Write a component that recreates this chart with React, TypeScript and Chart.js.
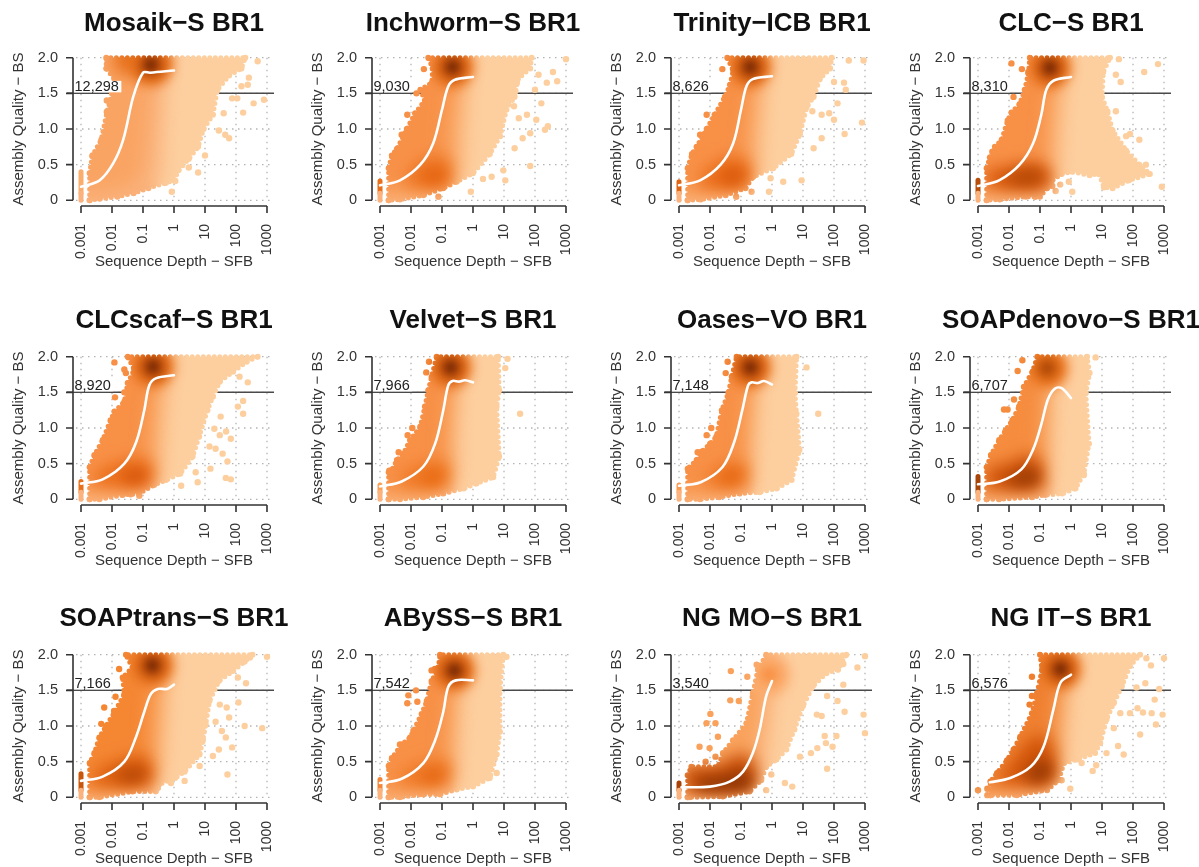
import React, { useEffect, useRef } from "react";
import { Chart, registerables } from "chart.js";

type P = [number, number];

const titles = ["Mosaik−S BR1","Inchworm−S BR1","Trinity−ICB BR1","CLC−S BR1","CLCscaf−S BR1","Velvet−S BR1","Oases−VO BR1","SOAPdenovo−S BR1","SOAPtrans−S BR1","ABySS−S BR1","NG MO−S BR1","NG IT−S BR1"];
const counts = ["12,298","9,030","8,626","8,310","8,920","7,966","7,148","6,707","7,166","7,542","3,540","6,576"];
const xTickValues = [0.001,0.01,0.1,1,10,100,1000];
const yTickValues = [0,0.5,1,1.5,2];
const threshold = 1.5;

const hulls: P[][] = [
[[.0019,0],[.0019,.38],[.0023,.62],[.0045,.85],[.007,1.25],[.01,1.5],[.012,1.7],[.0065,1.85],[.0065,2],[200,2],[150,1.85],[60,1.75],[25,1.55],[18,1.2],[9,1],[6,.75],[3,.58],[1.4,.42],[1,.28],[.5,.24],[.15,.17],[.05,.1],[.015,.05],[.004,.02]],
[[.0019,0],[.0019,.45],[.0024,.63],[.0035,.72],[.0073,1],[.0135,1.22],[.028,1.4],[.02,1.55],[.047,1.65],[.05,1.85],[.036,2],[78,2],[70,1.85],[28,1.7],[22,1.45],[12,1.27],[7.5,.9],[3.5,.65],[1,.38],[.3,.26],[.11,.17],[.025,.07],[.0044,.01]],
[[.0019,0],[.0019,.45],[.0026,.65],[.0037,.75],[.0078,1],[.014,1.2],[.03,1.45],[.044,1.62],[.056,1.82],[.036,2],[85,2],[75,1.85],[35,1.7],[22,1.45],[13,1.3],[8,.93],[4.2,.65],[1.1,.45],[.25,.33],[.14,.17],[.032,.07],[.005,.01]],
[[.0019,0],[.0019,.45],[.0024,.6],[.0035,.75],[.0058,.85],[.009,1.12],[.012,1.23],[.022,1.35],[.032,1.55],[.042,1.78],[.047,2],[18,2],[11,1.8],[10,1.45],[15,1.25],[22,.98],[60,.7],[160,.5],[350,.37],[75,.28],[22,.17],[11.5,.18],[8,.37],[4,.35],[1.1,.4],[.5,.37],[.25,.28],[.17,.17],[.1,.05],[.035,.05],[.005,.01]],
[[.0019,0],[.0019,.45],[.0027,.62],[.005,.83],[.009,1.11],[.012,1.23],[.025,1.37],[.032,1.63],[.052,1.82],[.032,2],[500,2],[220,1.93],[80,1.79],[30,1.65],[18,1.44],[12,1.25],[6.5,.88],[4,.6],[1.6,.36],[.55,.27],[.23,.2],[.075,.08],[.022,.06],[.0039,0]],
[[.0019,0],[.0019,.38],[.0024,.41],[.0035,.55],[.0057,.64],[.0093,.83],[.02,1.02],[.028,1.3],[.036,1.53],[.046,1.72],[.067,2],[6.5,2],[7,1.53],[5.8,1.3],[7,.6],[4.5,.31],[1.3,.22],[.5,.15],[.11,.08],[.025,.03],[.0044,0]],
[[.0019,0],[.0019,.43],[.0037,.55],[.0054,.67],[.01,.78],[.016,.88],[.024,1.25],[.039,1.49],[.05,1.72],[.072,2],[6.2,2],[5.5,1.49],[6.2,1.2],[7.7,.69],[4.3,.27],[1.4,.15],[.4,.1],[.09,.08],[.02,.03],[.0047,0]],
[[.0019,0],[.0019,.45],[.0026,.62],[.0048,.83],[.0078,.97],[.0128,1.11],[.021,1.3],[.03,1.58],[.057,1.79],[.082,2],[3.3,2],[4,1.77],[3,1.49],[3.8,.78],[2.6,.36],[1.4,.15],[.52,.08],[.15,.06],[.055,.03],[.0048,0]],
[[.0019,0],[.0019,.48],[.0027,.62],[.0039,.84],[.0064,1],[.012,1.19],[.025,1.45],[.022,1.68],[.046,1.82],[.028,2],[340,2],[190,1.9],[80,1.77],[28,1.63],[14,1.35],[10.6,1.02],[8.5,.79],[6.7,.6],[2.2,.36],[1.1,.27],[.33,.18],[.26,.08],[.046,.08],[.0039,0]],
[[.0019,0],[.0019,.44],[.0024,.55],[.005,.74],[.0093,.84],[.022,1.17],[.032,1.35],[.046,1.63],[.076,1.82],[.086,2],[9.5,2],[7.4,1.53],[7.4,.92],[5.8,.6],[3.5,.27],[1,.15],[.3,.11],[.086,.04],[.025,.04],[.0044,0]],
[[.0019,0],[.0019,.31],[.0025,.43],[.018,.43],[.026,.62],[.055,.8],[.15,1.04],[.24,1.46],[.35,1.79],[.65,2],[250,2],[135,1.79],[57,1.74],[21,1.56],[10,1.28],[5.3,.95],[2.9,.67],[1.4,.53],[.65,.43],[.45,.24],[.19,.08],[.026,.01],[.0022,0]],
[[.0025,.03],[.0025,.22],[.0041,.34],[.0086,.52],[.014,.67],[.023,.85],[.055,1.18],[.08,1.46],[.116,1.79],[.1,2],[170,2],[80,1.84],[44,1.56],[24,1.32],[14,1.09],[8.8,.76],[6,.62],[1.6,.53],[.6,.48],[.4,.24],[.17,.1],[.018,.03]],
];

const outliers: P[][] = [
[[.0024,.63],[.0068,1.24],[.0125,1.78],[.0072,1.96],[.012,1.9],[.0125,1.68],[.0068,1.4],[800,1.41],[370,1.36],[170,1.23],[110,1.43],[75,1.43],[60,.87],[45,.92],[28,.98],[10,.63],[6,.39],[3,.46],[1.1,.27],[.85,.12],[.55,.25],[260,1.72],[240,1.62],[150,1.6],[500,1.95],[40,1.22]],
[[.026,1.84],[.015,1.5],[.0076,1.2],[.005,.92],[26,1.65],[23,1.53],[100,1.55],[160,1.36],[130,1.76],[240,1.65],[380,1.8],[520,1.67],[1000,1.98],[260,1.04],[210,.99],[110,1.13],[70,.94],[40,.87],[22,.73],[70,.48],[9.5,.42],[11,.28],[4,.33],[2.1,.3],[.85,.12],[.0765,.05],[55,1.2],[30,1.15],[21,1.32]],
[[.025,1.84],[.0078,1.2],[.0048,.92],[.004,.7],[20,1.67],[23,1.55],[100,1.66],[210,1.65],[240,1.55],[130,1.36],[20,1.25],[40,1.2],[70,1.22],[100,1.13],[800,1.09],[220,.93],[40,.87],[22,.73],[9,.28],[2.3,.26],[.8,.12],[.9,.31],[.07,.05],[.22,.12],[900,1.96],[300,1.96]],
[[.012,1.92],[.026,1.84],[.042,1.8],[.014,1.45],[35,1.98],[28,1.76],[40,1.66],[230,1.8],[640,1.91],[28,1.25],[60,.9],[80,.93],[160,.85],[260,.5],[850,.19],[.07,.05],[.32,.13],[1.1,.12],[.85,.26],[.0029,.68],[.25,.2],[.45,.22]],
[[.012,1.92],[.025,1.82],[.028,1.77],[.0125,1.43],[.025,1.5],[240,1.64],[130,1.72],[170,1.38],[115,1.3],[170,1.2],[32,1.16],[20,.99],[30,.9],[48,.95],[68,.85],[14,.74],[22,.71],[37,.64],[53,.53],[15,.43],[47,.3],[68,.28],[1.7,.19],[.076,.05],[.04,.07],[5,.38],[5.8,.24]],
[[.038,1.93],[.031,1.78],[13,1.97],[11,1.84],[33,1.2],[.011,1],[.0078,.9],[.004,.66],[.002,.4]],
[[.037,1.93],[.032,1.77],[13,1.85],[31,1.2],[.011,1],[.0078,.9],[.004,.66]],
[[.019,1.8],[.0069,1.26],[.0145,1.4],[.027,1.95],[6.2,1.99],[2.6,.34],[.009,1.26],[.013,1.05]],
[[1000,1.97],[280,1.96],[210,1.6],[115,1.68],[120,1.33],[190,1],[700,.97],[50,1.26],[60,1.12],[30,1.3],[22,1.06],[35,.93],[47,.84],[75,.7],[28,.67],[18,.58],[6.7,.44],[53,.32],[2.2,.23],[.8,.2],[.3,.13],[.017,1.8],[.013,1.41],[.0056,1.26],[.0117,1.21],[.0045,1.03]],
[[12,1.97],[.059,1.8],[.046,1.78],[.0145,1.5],[.0082,1.43],[.016,1.34],[.0076,1.32],[.012,.93],[.0044,.74],[.002,.44],[5.8,.34]],
[[1000,1.98],[570,1.82],[200,1.87],[200,1.58],[900,1.16],[1000,.9],[220,1.2],[130,1.35],[60,1.42],[40,1.14],[28,1.16],[120,.86],[90,.71],[50,.86],[55,.76],[29,.69],[60,.4],[18,.62],[8,.57],[4.5,.15],[2.6,.2],[.65,.1],[.95,.32],[.047,1.77],[.16,1.69],[.045,1.36],[.085,1.35],[.0103,1.17],[.0077,1.04],[.015,1.04],[.018,.85],[.0046,.71],[.0097,.69],[.0072,.5],[.015,.57],[.32,1.86]],
[[1000,1.95],[380,1.85],[270,1.95],[250,1.6],[130,1.54],[700,1.52],[500,1.37],[900,1.16],[400,1.18],[210,1.19],[140,1.25],[170,.88],[550,1.02],[80,1.18],[39,1.18],[24,.97],[33,.72],[50,.6],[14,.62],[5,.37],[6.5,.45],[2.2,.48],[.95,.12],[.5,.24],[.001,.1],[.055,1.69],[.055,1.42],[.046,1.3],[.002,.12],[.002,.03]],
];

const smoothers: P[][] = [
[[.001,.19],[.004,.28],[.011,.52],[.023,.85],[.049,1.46],[.1,1.79],[.17,1.79],[1,1.82]],
[[.001,.21],[.0044,.28],[.02,.5],[.052,.8],[.1,1.27],[.16,1.6],[.26,1.69],[1,1.73]],
[[.001,.21],[.0048,.28],[.022,.5],[.056,.8],[.1,1.27],[.15,1.6],[.24,1.7],[1,1.74]],
[[.001,.2],[.0048,.28],[.022,.5],[.06,.8],[.11,1.2],[.16,1.55],[.28,1.68],[1,1.73]],
[[.001,.22],[.005,.28],[.025,.5],[.06,.8],[.11,1.25],[.16,1.6],[.27,1.7],[1,1.74]],
[[.001,.18],[.005,.25],[.025,.46],[.06,.78],[.11,1.25],[.16,1.6],[.22,1.66],[.35,1.65],[.55,1.67],[1,1.64]],
[[.001,.19],[.005,.24],[.025,.45],[.06,.8],[.11,1.25],[.17,1.6],[.22,1.64],[.35,1.63],[.55,1.66],[1,1.61]],
[[.001,.21],[.005,.25],[.025,.42],[.06,.7],[.11,1.05],[.18,1.4],[.3,1.55],[.5,1.56],[1,1.42]],
[[.001,.23],[.005,.29],[.025,.5],[.06,.85],[.11,1.2],[.18,1.45],[.3,1.52],[.6,1.52],[1,1.58]],
[[.001,.2],[.005,.26],[.025,.48],[.06,.8],[.11,1.2],[.16,1.55],[.28,1.64],[1,1.64]],
[[.0012,.14],[.01,.15],[.043,.22],[.116,.36],[.24,.62],[.4,.95],[.65,1.42],[1,1.63]],
[[.0024,.21],[.011,.27],[.05,.43],[.13,.71],[.27,1.23],[.46,1.61],[1,1.72]],
];

const midEdges: P[][] = [
[[.6,2.2],[.5,1.6],[.42,1],[.36,.5],[.3,.2],[.1,.1],[.01,.06],[.001,.04]],
[[.7,2.2],[.55,1.5],[.45,1],[.4,.5],[.35,.25],[.1,.12],[.01,.08],[.001,.05]],
[[.7,2.2],[.5,1.5],[.4,1],[.35,.5],[.3,.28],[.1,.12],[.01,.08],[.001,.05]],
[[.7,2.2],[.5,1.5],[.4,1],[.35,.5],[.3,.25],[.12,.12],[.01,.08],[.001,.05]],
[[.7,2.2],[.5,1.5],[.4,1],[.35,.5],[.3,.28],[.1,.12],[.01,.08],[.001,.05]],
[[.35,2.2],[.3,1.5],[.25,1],[.25,.5],[.22,.2],[.08,.08],[.01,.06],[.001,.04]],
[[.35,2.2],[.3,1.5],[.25,1],[.22,.5],[.2,.2],[.08,.08],[.01,.06],[.001,.04]],
[[.25,2.2],[.22,1.5],[.2,1],[.18,.5],[.17,.2],[.08,.08],[.01,.06],[.001,.04]],
[[.6,2.2],[.5,1.5],[.42,1],[.35,.5],[.28,.2],[.1,.1],[.01,.08],[.001,.05]],
[[.45,2.2],[.36,1.5],[.3,1],[.27,.5],[.25,.2],[.08,.08],[.01,.06],[.001,.04]],
[[1.2,2.2],[1.1,1.5],[.9,1],[.7,.6],[.5,.3],[.2,.1],[.02,.03],[.001,.02]],
[[.9,2.2],[.75,1.5],[.6,1],[.5,.6],[.4,.24],[.1,.1],[.01,.05],[.001,.03]],
];

const coreEdges: P[][] = [
[[.25,2.2],[.18,1.6],[.13,1],[.1,.5],[.06,.22],[.01,.14],[.001,.1]],
[[.25,2.2],[.2,1.5],[.15,1],[.15,.6],[.12,.25],[.03,.16],[.001,.14]],
[[.25,2.2],[.19,1.5],[.15,1],[.14,.6],[.12,.25],[.03,.16],[.001,.14]],
[[.25,2.2],[.19,1.5],[.15,1],[.14,.6],[.12,.25],[.03,.16],[.001,.14]],
[[.25,2.2],[.19,1.5],[.15,1],[.14,.6],[.12,.25],[.03,.16],[.001,.14]],
[[.2,2.2],[.15,1.5],[.12,1],[.12,.6],[.1,.25],[.03,.14],[.001,.12]],
[[.2,2.2],[.15,1.5],[.12,1],[.12,.6],[.1,.25],[.03,.14],[.001,.12]],
[[.13,2.2],[.12,1.5],[.1,1],[.11,.6],[.1,.2],[.03,.14],[.001,.12]],
[[.22,2.2],[.17,1.5],[.14,1],[.14,.6],[.12,.22],[.03,.14],[.001,.12]],
[[.2,2.2],[.16,1.5],[.13,1],[.12,.6],[.1,.25],[.03,.14],[.001,.12]],
[[.6,2.2],[.55,1.5],[.4,1],[.3,.6],[.3,.25],[.1,.07],[.01,.05],[.001,.05]],
[[.45,2.2],[.35,1.5],[.28,1],[.28,.6],[.25,.25],[.05,.15],[.001,.1]],
];

const blobsOuter: P[][] = [
[[.012,2.2],[.55,2.2],[.5,1.78],[.012,1.78]],
[[.006,.2],[.01,.45],[.03,.6],[.1,.65],[.2,.5],[.2,.2],[.05,.15]],
[[.004,.17],[.006,.4],[.03,.6],[.1,.62],[.2,.5],[.2,.2],[.05,.14]],
[[.0018,.18],[.0018,.42],[.01,.48],[.08,.55],[.2,.45],[.25,.22],[.1,.14],[.01,.14]],
[[.002,.2],[.004,.42],[.03,.55],[.1,.6],[.22,.45],[.2,.2],[.05,.15]],
[[.004,.18],[.006,.4],[.03,.5],[.1,.58],[.18,.4],[.15,.2],[.05,.15]],
[[.006,.2],[.01,.38],[.03,.5],[.1,.55],[.17,.4],[.14,.2],[.05,.15]],
[[.0018,.14],[.002,.45],[.008,.5],[.03,.62],[.09,.6],[.13,.35],[.1,.15],[.03,.12]],
[[.002,.16],[.004,.42],[.03,.55],[.1,.62],[.2,.45],[.2,.2],[.05,.14]],
[[.004,.18],[.006,.38],[.03,.5],[.1,.56],[.2,.42],[.16,.2],[.05,.15]],
[[.0014,.06],[.0014,.42],[.02,.45],[.06,.6],[.2,.6],[.36,.3],[.2,.08],[.02,.05]],
[[.004,.2],[.01,.45],[.04,.8],[.12,.9],[.28,.7],[.32,.25],[.12,.16],[.02,.18]],
];

const blobsInner: P[][] = [
[],
[[.02,.3],[.03,.42],[.1,.45],[.13,.3],[.08,.22]],
[[.02,.24],[.03,.42],[.09,.45],[.14,.32],[.08,.22]],
[[.008,.24],[.01,.36],[.04,.44],[.1,.42],[.14,.28],[.06,.2]],
[[.02,.25],[.03,.4],[.09,.43],[.14,.3],[.08,.22]],
[[.02,.24],[.03,.38],[.08,.42],[.11,.3],[.07,.2]],
[[.02,.25],[.03,.38],[.08,.42],[.1,.3],[.07,.22]],
[[.008,.2],[.012,.34],[.04,.44],[.08,.42],[.1,.28],[.06,.18]],
[[.012,.22],[.02,.38],[.06,.45],[.12,.38],[.13,.25],[.06,.2]],
[[.02,.24],[.03,.36],[.08,.4],[.12,.3],[.07,.2]],
[[.004,.1],[.004,.26],[.03,.3],[.1,.38],[.24,.3],[.2,.12],[.05,.08]],
[[.03,.25],[.05,.42],[.12,.55],[.22,.5],[.25,.28],[.1,.2]],
];

const floorBand: P[] = [[.22,-.2],[.22,.28],[.0003,.28],[.0003,-.2]];
const peaks: P[] = [[.18,1.9],[.22,1.87],[.2,1.87],[.21,1.86],[.21,1.86],[.19,1.85],[.2,1.85],[.17,1.84],[.2,1.85],[.25,1.78],[.8,1.72],[.46,1.8]];
const stripHeights = [.4,.27,.26,.28,.25,.2,.2,.32,.33,.25,.2,0];

const lightTone = "#FDCF9F";
const stripLowTone = "#FBB27C";
const midColors = ["#FBB27A","#FBAA68","#FBAA68","#FBAA68","#FBAA68","#FAA560","#FAA560","#F9A560","#FAA058","#FAA560","#FCB982","#F9A560"];
const coreColors = ["#FAA463","#F89148","#F89046","#F89046","#F89046","#F89046","#F89046","#F68C3E","#F58632","#F89046","#FAA25C","#F08030"];
const blobOuterColors = ["#E8701A","#EE7420","#EB6C18","#D9580A","#EB6C18","#EF7722","#EF7722","#CF5208","#DD5E0D","#EF7722","#C84E07","#D25408"];
const blobInnerColors = ["#D95F0E","#E4620F","#D9580A","#B44806","#D4540A","#E9680F","#E46410","#9C3C05","#B84806","#E46410","#8F3504","#9A3A05"];
const stripColors = ["#FBAD6C","#E8701A","#E06512","#B84E0A","#E8701A","#FA9F55","#FA9A4F","#A84508","#C9560B","#F28537","#A84206","#F9A058"];
const peakOuterColors = ["#E8701A","#E8701A","#E8701A","#E8701A","#E8701A","#E8701A","#E8701A","#EE7A25","#E8701A","#E8701A","#FCAE70","#E8701A"];
const peakMidColors = ["#BD4E0A","#BD4E0A","#BD4E0A","#BD4E0A","#BD4E0A","#BD4E0A","#BD4E0A","#D2600F","#BD4E0A","#BD4E0A","#FBA25C","#BD4E0A"];
const peakCoreColors = ["#7F2C04","#7F2C04","#7F2C04","#7F2C04","#7F2C04","#7F2C04","#7F2C04","#B24A08","#7F2C04","#7F2C04","#F99247","#7F2C04"];

const xMin = Math.pow(10, -3.226);
const xMax = Math.pow(10, 3.226);
const yMin = -0.08;
const yMax = 2.08;

const columnLefts = [74, 373, 672, 971];
const rowTops = [0, 299, 597];
const titleTopPads = [8.4, 6.4, 6.4];
const canvasWidth = 328;
const canvasHeight = 271;
const AXIS = "#333333";
const FONT = "'Liberation Sans', Arial, sans-serif";

const pts = (a: P[]) => a.map(([x, y]) => ({ x, y }));

const layerFx: any = {
  id: "layerFx",
  beforeDatasetDraw(chart: any, args: any) {
    const ds = chart.data.datasets[args.index];
    const ctx = chart.ctx;
    ctx.save();
    if (ds.blurPx) ctx.filter = `blur(${ds.blurPx}px)`;
    if (ds.atop) ctx.globalCompositeOperation = "source-atop";
  },
  afterDatasetDraw(chart: any) {
    chart.ctx.restore();
  },
  afterDatasetsDraw(chart: any, _a: any, opts: any) {
    if (!opts || !opts.count) return;
    const ctx = chart.ctx;
    const xs = chart.scales.x;
    const ys = chart.scales.y;
    const area = chart.chartArea;
    ctx.save();
    ctx.globalCompositeOperation = "destination-over";
    const yL = ys.getPixelForValue(threshold);
    ctx.strokeStyle = "#4a4a4a";
    ctx.lineWidth = 1.5;
    ctx.beginPath();
    ctx.moveTo(area.left - 7, yL);
    ctx.lineTo(area.right, yL);
    ctx.stroke();
    ctx.strokeStyle = "#b4b4b4";
    ctx.lineWidth = 1.3;
    ctx.setLineDash([1.5, 4.5]);
    const top = ys.getPixelForValue(2);
    const bottom = ys.getPixelForValue(0);
    xTickValues.forEach((v) => {
      const x = xs.getPixelForValue(v);
      ctx.beginPath();
      ctx.moveTo(x, top);
      ctx.lineTo(x, bottom);
      ctx.stroke();
    });
    yTickValues.forEach((v) => {
      const y = ys.getPixelForValue(v);
      ctx.beginPath();
      ctx.moveTo(area.left + 2, y);
      ctx.lineTo(area.right, y);
      ctx.stroke();
    });
    ctx.restore();
    ctx.save();
    ctx.font = `14.5px ${FONT}`;
    const w = ctx.measureText(opts.count).width;
    ctx.fillStyle = "#ffffff";
    ctx.fillRect(area.left - 1, yL - 12.5, w + 4, 11.5);
    ctx.fillStyle = "#222222";
    ctx.textBaseline = "alphabetic";
    ctx.fillText(opts.count, area.left + 0.5, yL - 2);
    ctx.restore();
  },
  afterDraw(chart: any, _a: any, opts: any) {
    if (!opts || !opts.count) return;
    const ctx = chart.ctx;
    const xs = chart.scales.x;
    const ys = chart.scales.y;
    const area = chart.chartArea;
    ctx.save();
    ctx.strokeStyle = AXIS;
    ctx.lineWidth = 1.6;
    ctx.beginPath();
    const x0 = xs.getPixelForValue(xTickValues[0]);
    const x1 = xs.getPixelForValue(xTickValues[xTickValues.length - 1]);
    const ax = area.bottom;
    ctx.moveTo(x0, ax);
    ctx.lineTo(x1, ax);
    xTickValues.forEach((v) => {
      const x = xs.getPixelForValue(v);
      ctx.moveTo(x, ax);
      ctx.lineTo(x, ax + 7);
    });
    const ay = area.left - 1;
    ctx.moveTo(ay, ys.getPixelForValue(0));
    ctx.lineTo(ay, ys.getPixelForValue(2));
    yTickValues.forEach((v) => {
      const y = ys.getPixelForValue(v);
      ctx.moveTo(ay, y);
      ctx.lineTo(ay - 7, y);
    });
    ctx.stroke();
    ctx.restore();
  },
};

Chart.register(layerFx, ...registerables);

function polygon(data: P[], color: string, blurPx: number) {
  return { data: pts(data), showLine: true, fill: "shape", backgroundColor: color, borderWidth: 0, pointRadius: 0, blurPx, atop: true };
}
function peakDot(at: P, color: string, radius: number, blurPx: number) {
  return { data: pts([at]), showLine: false, pointRadius: radius, pointBackgroundColor: color, pointBorderWidth: 0, blurPx, atop: true };
}

function buildDatasets(i: number) {
  const closeLeft = (edge: P[]): P[] => [...edge, [xMin / 2, edge[edge.length - 1][1]], [xMin / 2, 2.2]];
  const base: any[] = [
    { data: pts([...hulls[i], hulls[i][0]]), showLine: true, fill: "shape", backgroundColor: lightTone, borderColor: lightTone, borderWidth: 5, borderCapStyle: "round", borderDash: [0, 5.5], borderJoinStyle: "round", pointRadius: 3, pointBackgroundColor: lightTone, pointBorderWidth: 0 },
    { data: pts(outliers[i]), showLine: false, pointRadius: 3.2, pointBackgroundColor: lightTone, pointBorderWidth: 0 },
    polygon(floorBand, stripLowTone, 5),
    polygon(closeLeft(midEdges[i]), midColors[i], 10),
    polygon(closeLeft(coreEdges[i]), coreColors[i], 9),
  ];
  if (blobsOuter[i].length) base.push(polygon(blobsOuter[i], blobOuterColors[i], 8));
  if (blobsInner[i].length) base.push(polygon(blobsInner[i], blobInnerColors[i], 7));
  base.push(peakDot(peaks[i], peakOuterColors[i], 21, 6));
  base.push(peakDot(peaks[i], peakMidColors[i], 13, 5));
  base.push(peakDot(peaks[i], peakCoreColors[i], 6.5, 3.5));
  if (stripHeights[i] > 0) {
    base.push({ data: pts([[xTickValues[0], 0.1], [xTickValues[0], stripHeights[i]]]), showLine: true, borderColor: stripColors[i], borderWidth: 5, borderCapStyle: "round", pointRadius: 0 });
    base.push({ data: pts([[xTickValues[0], 0], [xTickValues[0], 0.1]]), showLine: true, borderColor: stripLowTone, borderWidth: 5, borderCapStyle: "round", pointRadius: 0 });
  }
  base.push({ data: pts(smoothers[i]), showLine: true, borderColor: "#ffffff", borderWidth: 2.6, borderCapStyle: "round", tension: 0.35, pointRadius: 0 });
  return base.reverse();
}

function Panel({ index }: { index: number }) {
  const ref = useRef<HTMLCanvasElement | null>(null);
  const row = Math.floor(index / 4);
  const col = index % 4;
  useEffect(() => {
    const chart = new Chart(ref.current as HTMLCanvasElement, {
      type: "scatter",
      data: { datasets: buildDatasets(index) as any },
      options: {
        animation: false,
        responsive: false,
        events: [],
        plugins: {
          legend: { display: false },
          tooltip: { enabled: false },
          title: {
            display: true,
            text: titles[index],
            color: "#111111",
            font: { family: FONT, size: 26, weight: "bold", lineHeight: 1.2 },
            padding: { top: titleTopPads[row], bottom: 20.8 - titleTopPads[row] },
          },
          layerFx: { count: counts[index] },
        } as any,
        scales: {
          x: {
            type: "logarithmic",
            min: xMin,
            max: xMax,
            afterBuildTicks: (s: any) => { s.ticks = xTickValues.map((value) => ({ value })); },
            afterFit: (s: any) => { s.height = 65; },
            grid: { display: false, drawTicks: false },
            border: { display: false },
            ticks: {
              autoSkip: false, minRotation: 90, maxRotation: 90, padding: 18, color: AXIS,
              font: { family: FONT, size: 14 },
              callback: (v: any) => String(v),
            },
            title: { display: true, text: "Sequence Depth − SFB", color: AXIS, padding: 0, font: { family: FONT, size: 15 } },
          },
          y: {
            type: "linear",
            min: yMin,
            max: yMax,
            afterBuildTicks: (s: any) => { s.ticks = yTickValues.map((value) => ({ value })); },
            afterFit: (s: any) => { s.width = 64; },
            grid: { display: false, drawTicks: false },
            border: { display: false },
            ticks: {
              autoSkip: false, padding: 16, color: AXIS,
              font: { family: FONT, size: 14.5 },
              callback: (v: any) => (v === 0 ? "0" : Number(v).toFixed(1)),
            },
            title: { display: true, text: "Assembly Quality − BS", color: AXIS, padding: 0, font: { family: FONT, size: 15 } },
          },
          spacer: {
            type: "linear",
            position: "right",
            afterFit: (s: any) => { s.width = 64; },
            grid: { display: false, drawTicks: false },
            border: { display: false },
            ticks: { display: false },
          },
        },
      },
    });
    return () => chart.destroy();
  }, [index, row]);
  return (
    <canvas
      ref={ref}
      width={canvasWidth}
      height={canvasHeight}
      style={{ position: "absolute", left: columnLefts[col] - 64, top: rowTops[row], width: canvasWidth, height: canvasHeight, filter: "blur(0.55px)" }}
    />
  );
}

export default function App() {
  return (
    <div style={{ position: "fixed", left: 0, top: 0, width: 1199, height: 867, overflow: "hidden", background: "#ffffff" }}>
      {titles.map((_, i) => (
        <Panel key={i} index={i} />
      ))}
    </div>
  );
}
